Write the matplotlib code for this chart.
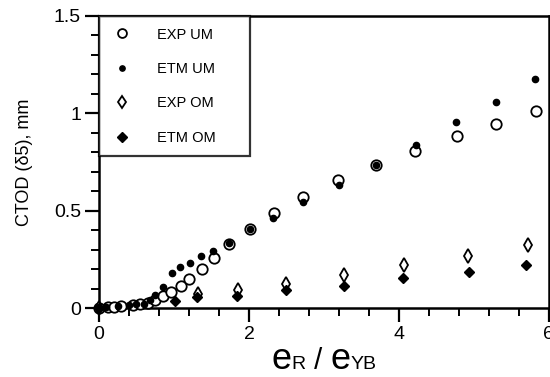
import matplotlib
matplotlib.use("Agg")
import matplotlib.pyplot as plt
from matplotlib.offsetbox import TextArea, HPacker, AnchoredOffsetbox
from matplotlib.ticker import MultipleLocator

plt.rcParams["font.family"] = ["Liberation Sans", "DejaVu Sans"]

# CTOD vs normalised remote strain
exp_um_x = [0.0, 0.12, 0.2, 0.3, 0.45, 0.55, 0.65, 0.75, 0.85, 0.96, 1.10, 1.20, 1.38, 1.54,
            1.73, 2.01, 2.34, 2.72, 3.19, 3.69, 4.22, 4.78, 5.30, 5.83]
exp_um_y = [0.0, 0.005, 0.005, 0.01, 0.015, 0.02, 0.025, 0.04, 0.062, 0.081, 0.115, 0.148, 0.201, 0.256,
            0.330, 0.406, 0.488, 0.571, 0.655, 0.732, 0.806, 0.883, 0.947, 1.009]

etm_um_x = [0.0, 0.1, 0.25, 0.4, 0.5, 0.6, 0.68, 0.75, 0.86, 0.97, 1.08, 1.21, 1.36, 1.52,
            1.73, 2.01, 2.32, 2.72, 3.20, 3.69, 4.23, 4.76, 5.29, 5.81]
etm_um_y = [0.0, 0.005, 0.01, 0.015, 0.02, 0.02, 0.04, 0.067, 0.107, 0.179, 0.210, 0.230, 0.265, 0.295,
            0.335, 0.406, 0.460, 0.545, 0.629, 0.732, 0.837, 0.955, 1.058, 1.175]

exp_om_x = [0.0, 1.32, 1.85, 2.49, 3.27, 4.07, 4.92, 5.72]
exp_om_y = [0.0, 0.071, 0.093, 0.124, 0.167, 0.222, 0.268, 0.325]

etm_om_x = [0.0, 1.01, 1.31, 1.84, 2.49, 3.27, 4.05, 4.94, 5.70]
etm_om_y = [0.0, 0.038, 0.055, 0.064, 0.093, 0.115, 0.153, 0.187, 0.222]

fig = plt.figure(figsize=(5.5, 3.77), dpi=100)
ax = fig.add_axes([0.18, 0.183, 0.818, 0.775])

ax.plot(exp_um_x, exp_um_y, "o", ms=7.5, mfc="white", mec="black", mew=1.3, clip_on=False, label="EXP UM", zorder=3)
ax.plot(etm_um_x, etm_um_y, "o", ms=4.5, color="black", clip_on=False, label="ETM UM", zorder=4)
ax.plot(exp_om_x, exp_om_y, "d", ms=7.5, mfc="white", mec="black", mew=1.3, clip_on=False, label="EXP OM", zorder=3)
ax.plot(etm_om_x, etm_om_y, "D", ms=5.5, color="black", clip_on=False, label="ETM OM", zorder=4)

ax.set_xlim(0, 6)
ax.set_ylim(0, 1.5)
ax.set_xticks([0, 2, 4, 6])
ax.set_xticklabels(["0", "2", "4", "6"])
ax.set_yticks([0, 0.5, 1, 1.5])
ax.set_yticklabels(["0", "0.5", "1", "1.5"])
ax.xaxis.set_minor_locator(MultipleLocator(0.4))
ax.yaxis.set_minor_locator(MultipleLocator(0.1))
ax.tick_params(which="major", direction="out", length=10, width=1.6, labelsize=14, pad=3)
ax.tick_params(which="minor", direction="out", length=5.5, width=1.4)
for s in ax.spines.values():
    s.set_linewidth(1.8)

ax.set_ylabel("CTOD (δ5), mm", fontsize=13, labelpad=15)

# x label: large e with small suffixes on the same baseline
parts = [("e", 26), ("R", 14), (" / ", 21), ("e", 26), ("YB", 14)]
boxes = [TextArea(t, textprops=dict(fontsize=fs)) for t, fs in parts]
pack = HPacker(children=boxes, align="baseline", pad=0, sep=0)
xl = AnchoredOffsetbox(loc="upper center", child=pack, frameon=False, pad=0,
                       bbox_to_anchor=(0.5, -0.115), bbox_transform=ax.transAxes, borderpad=0)
ax.add_artist(xl)

leg = ax.legend(loc="upper left", bbox_to_anchor=(0, 1, 0.335, 0), mode="expand", borderaxespad=0,
                fontsize=10.5, labelspacing=1.4, handlelength=1.6, handletextpad=1.6,
                borderpad=0.8, fancybox=False, markerscale=0.85)
leg.get_frame().set_edgecolor("black")
leg.get_frame().set_linewidth(1.6)

fig.savefig("out.png", dpi=100)
